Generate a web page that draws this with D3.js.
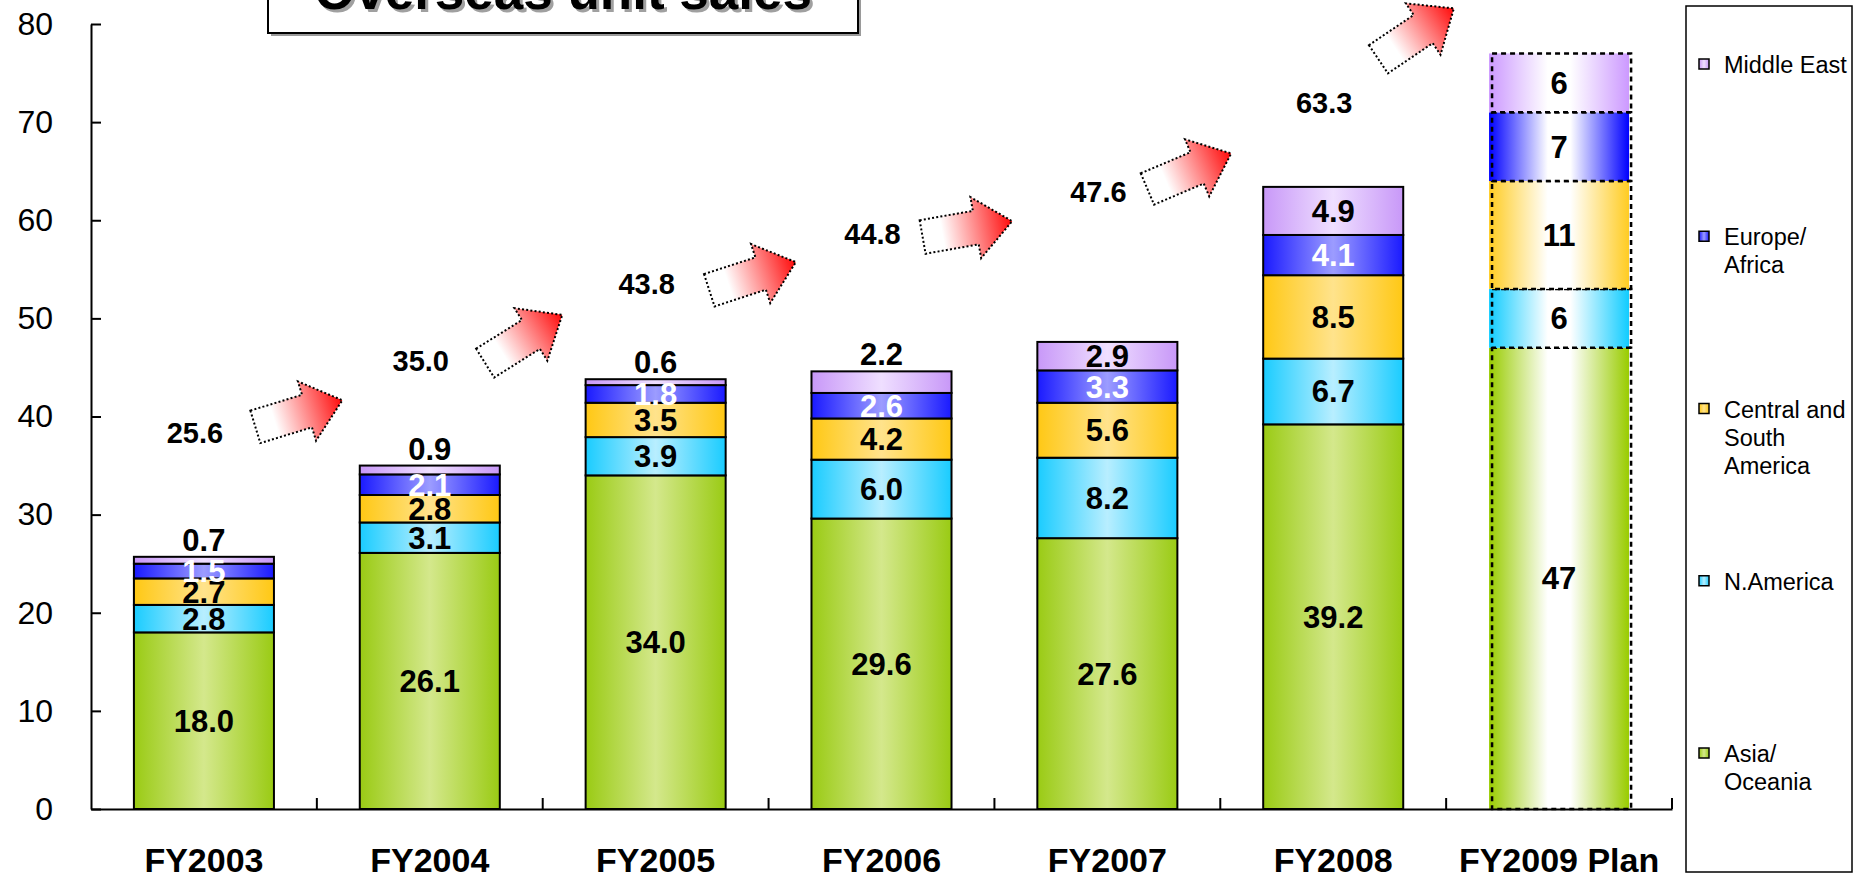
<!DOCTYPE html>
<html>
<head>
<meta charset="utf-8">
<script src="https://cdn.jsdelivr.net/npm/d3@7"></script>
<style>
  html, body { margin: 0; padding: 0; background: #fff; }
  svg { display: block; font-family: "Liberation Sans", Arial, sans-serif; }
</style>
</head>
<body>
<svg id="chart" width="1855" height="880"></svg>
<script>
// ---- data ----
const categories = ["FY2003", "FY2004", "FY2005", "FY2006", "FY2007", "FY2008", "FY2009 Plan"];
const seriesKeys = ["Asia/Oceania", "N.America", "Central and South America", "Europe/Africa", "Middle East"];
const asiaOceania = [18.0, 26.1, 34.0, 29.6, 27.6, 39.2, 47];
const nAmerica = [2.8, 3.1, 3.9, 6.0, 8.2, 6.7, 6];
const centralSouthAmerica = [2.7, 2.8, 3.5, 4.2, 5.6, 8.5, 11];
const europeAfrica = [1.5, 2.1, 1.8, 2.6, 3.3, 4.1, 7];
const middleEast = [0.7, 0.9, 0.6, 2.2, 2.9, 4.9, 6];
const totals = [25.6, 35.0, 43.8, 44.8, 47.6, 63.3];
const yTicks = [0, 10, 20, 30, 40, 50, 60, 70, 80];

// ---- layout helpers ----
const totalLabelLevel = [38.3, 45.7, 53.5, 58.6, 62.9, 72.0];
const arrowSpecs = [
  { after: 0, level: 40.3, angle: -17, shift: -18 },
  { after: 1, level: 47.9, angle: -32, shift: -19 },
  { after: 2, level: 54.3, angle: -18, shift: -16 },
  { after: 3, level: 59.1, angle: -10, shift: -27 },
  { after: 4, level: 65.0, angle: -23, shift: -31 },
  { after: 5, level: 79.0, angle: -34, shift: -30 }
];
const legendLines = {
  "Middle East": ["Middle East"],
  "Europe/Africa": ["Europe/", "Africa"],
  "Central and South America": ["Central and", "South", "America"],
  "N.America": ["N.America"],
  "Asia/Oceania": ["Asia/", "Oceania"]
};
const palette = {
  "Asia/Oceania": { edge: "#9acb14", mid: "#d4e88c", planEdge: "#99cc00" },
  "N.America": { edge: "#1accff", mid: "#b8eeff", planEdge: "#11ccff" },
  "Central and South America": { edge: "#ffc814", mid: "#ffe38c", planEdge: "#ffcc22" },
  "Europe/Africa": { edge: "#1a1aff", mid: "#9c9cff", planEdge: "#0000ff" },
  "Middle East": { edge: "#c898f8", mid: "#efdfff", planEdge: "#cc99ff" }
};

const svg = d3.select("#chart");
const defs = svg.append("defs");

const slug = k => k.replace(/[^A-Za-z]/g, "");
seriesKeys.forEach(k => {
  const c = palette[k];
  const g = defs.append("linearGradient").attr("id", "g-" + slug(k))
    .attr("x1", 0).attr("x2", 1).attr("y1", 0).attr("y2", 0);
  g.append("stop").attr("offset", 0).attr("stop-color", c.edge);
  g.append("stop").attr("offset", 0.5).attr("stop-color", c.mid);
  g.append("stop").attr("offset", 1).attr("stop-color", c.edge);
  const p = defs.append("linearGradient").attr("id", "p-" + slug(k))
    .attr("x1", 0).attr("x2", 1).attr("y1", 0).attr("y2", 0);
  p.append("stop").attr("offset", 0).attr("stop-color", c.planEdge);
  p.append("stop").attr("offset", 0.42).attr("stop-color", "#ffffff");
  p.append("stop").attr("offset", 0.58).attr("stop-color", "#ffffff");
  p.append("stop").attr("offset", 1).attr("stop-color", c.planEdge);
});
const ag = defs.append("linearGradient").attr("id", "arrowGrad")
  .attr("x1", 0).attr("x2", 1).attr("y1", 0).attr("y2", 0);
ag.append("stop").attr("offset", 0).attr("stop-color", "#ffffff");
ag.append("stop").attr("offset", 0.22).attr("stop-color", "#ffffff");
ag.append("stop").attr("offset", 1).attr("stop-color", "#ff0a0a");

// ---- scales ----
const x = d3.scaleBand().domain(categories).range([91, 1672]).paddingInner(0.38).paddingOuter(0.19);
const y = d3.scaleLinear().domain([0, 80]).range([809, 24]);
const bw = x.bandwidth();
const gap = x.step() - bw;

// ---- stacked rows ----
const rows = categories.map((c, i) => ({
  category: c,
  "Asia/Oceania": asiaOceania[i],
  "N.America": nAmerica[i],
  "Central and South America": centralSouthAmerica[i],
  "Europe/Africa": europeAfrica[i],
  "Middle East": middleEast[i]
}));
const stacked = d3.stack().keys(seriesKeys)(rows);
const isPlan = c => c.indexOf("Plan") >= 0;

// ---- title box ----
const title = svg.append("g");
title.append("rect").attr("x", 271).attr("y", -10).attr("width", 590).attr("height", 46).attr("fill", "#9a9a9a");
title.append("rect").attr("x", 268).attr("y", -10).attr("width", 590).attr("height", 43)
  .attr("fill", "#fff").attr("stroke", "#000").attr("stroke-width", 2);
title.append("text").attr("x", 566).attr("y", 12).attr("text-anchor", "middle")
  .attr("font-size", 53).attr("font-weight", "bold").attr("fill", "#a0a0a0").text("Overseas unit sales");
title.append("text").attr("x", 563).attr("y", 9).attr("text-anchor", "middle")
  .attr("font-size", 53).attr("font-weight", "bold").attr("fill", "#000").text("Overseas unit sales");

// ---- bars ----
const layers = svg.append("g").selectAll("g").data(stacked).join("g");
layers.selectAll("rect").data(d => d.map(s => ({ key: d.key, s }))).join("rect")
  .attr("x", d => x(d.s.data.category))
  .attr("y", d => y(d.s[1]))
  .attr("width", bw)
  .attr("height", d => y(d.s[0]) - y(d.s[1]))
  .attr("fill", d => `url(#${isPlan(d.s.data.category) ? "p" : "g"}-${slug(d.key)})`)
  .attr("stroke", d => isPlan(d.s.data.category) ? "none" : "#000")
  .attr("stroke-width", 2);

// dashed outline for the plan column
layers.selectAll("rect.plan").data(d => d.filter(s => isPlan(s.data.category))).join("rect")
  .attr("class", "plan")
  .attr("x", s => x(s.data.category) + 3)
  .attr("y", s => y(s[1]))
  .attr("width", bw - 1)
  .attr("height", s => y(s[0]) - y(s[1]))
  .attr("fill", "none").attr("stroke", "#000").attr("stroke-width", 2.5)
  .attr("stroke-dasharray", "5,4");

// ---- segment labels ----
const topKey = seriesKeys[seriesKeys.length - 1];
const labels = svg.append("g").attr("font-weight", "bold").attr("font-size", 31).attr("text-anchor", "middle");
stacked.forEach(layer => {
  layer.forEach(s => {
    const c = s.data.category;
    const v = s[1] - s[0];
    const h = y(s[0]) - y(s[1]);
    const above = layer.key === topKey && h < 25;
    const txt = isPlan(c) ? d3.format("d")(v) : d3.format(".1f")(v);
    labels.append("text")
      .attr("x", x(c) + bw / 2)
      .attr("y", above ? y(s[1]) - 6 : (y(s[0]) + y(s[1])) / 2 + 11)
      .attr("fill", layer.key === "Europe/Africa" && !isPlan(c) ? "#fff" : "#000")
      .text(txt);
  });
});

// ---- totals ----
svg.append("g").attr("font-weight", "bold").attr("font-size", 29).attr("text-anchor", "middle")
  .selectAll("text").data(totals).join("text")
  .attr("x", (d, i) => x(categories[i]) + bw / 2 - 9)
  .attr("y", (d, i) => y(totalLabelLevel[i]) + 10)
  .text(d => d3.format(".1f")(d));

// ---- growth arrows ----
const L = 91, headLen = 37, shaftHalf = 17, headHalf = 31;
const arrowPath = d3.line()([
  [-L / 2, -shaftHalf], [L / 2 - headLen, -shaftHalf], [L / 2 - headLen, -headHalf], [L / 2, 0],
  [L / 2 - headLen, headHalf], [L / 2 - headLen, shaftHalf], [-L / 2, shaftHalf]
]) + "Z";
svg.append("g").selectAll("path").data(arrowSpecs).join("path")
  .attr("d", arrowPath)
  .attr("transform", a => `translate(${x(categories[a.after]) + bw + gap / 2 + a.shift},${y(a.level)}) rotate(${a.angle})`)
  .attr("fill", "url(#arrowGrad)")
  .attr("stroke", "#000").attr("stroke-width", 2).attr("stroke-dasharray", "2,2.2");

// ---- axes ----
const yAxis = svg.append("g").attr("transform", "translate(91,0)")
  .call(d3.axisLeft(y).tickValues(yTicks).tickSizeInner(-10).tickSizeOuter(0).tickPadding(38).tickFormat(d3.format("d")));
yAxis.select(".domain").attr("stroke", "#000").attr("stroke-width", 2);
yAxis.selectAll(".tick line").attr("stroke", "#000").attr("stroke-width", 2);
yAxis.selectAll(".tick text").attr("font-size", 32).attr("font-family", "Liberation Sans, Arial, sans-serif").attr("fill", "#000");

const xAxis = svg.append("g").attr("transform", "translate(0,809)")
  .call(d3.axisBottom(x).tickSize(0).tickSizeOuter(0).tickPadding(39));
xAxis.select(".domain").attr("stroke", "#000").attr("stroke-width", 2);
xAxis.selectAll(".tick text").attr("font-size", 34).attr("font-weight", "bold")
  .attr("font-family", "Liberation Sans, Arial, sans-serif").attr("fill", "#000");
const boundaries = categories.slice(0, -1).map(c => x(c) + bw + gap / 2).concat([x.range()[1]]);
xAxis.selectAll("line.sep").data(boundaries).join("line").attr("class", "sep")
  .attr("x1", d => d).attr("x2", d => d).attr("y1", 0).attr("y2", -11)
  .attr("stroke", "#000").attr("stroke-width", 2);

// ---- legend ----
const legend = svg.append("g");
legend.append("rect").attr("x", 1686).attr("y", 6).attr("width", 166).attr("height", 866)
  .attr("fill", "#fff").attr("stroke", "#000").attr("stroke-width", 1.5);
const legendOrder = seriesKeys.slice().reverse();
const legendY = d3.scalePoint().domain(legendOrder).range([65, 754]);
legendOrder.forEach(k => {
  const y0 = legendY(k);
  legend.append("rect").attr("x", 1699).attr("y", y0 - 6).attr("width", 10).attr("height", 10)
    .attr("fill", `url(#g-${slug(k)})`).attr("stroke", "#000").attr("stroke-width", 1.5);
  legendLines[k].forEach((line, j) => {
    legend.append("text").attr("x", 1724).attr("y", y0 + 8 + j * 28)
      .attr("font-size", 23.5).attr("fill", "#000").text(line);
  });
});
</script>
</body>
</html>
